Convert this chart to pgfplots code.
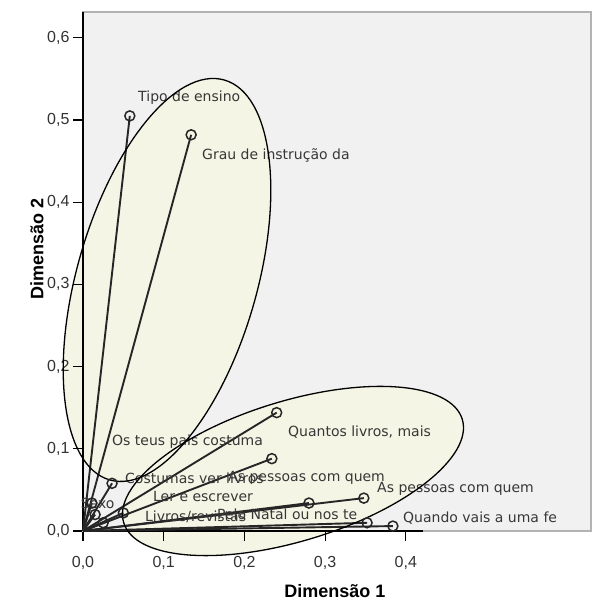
\documentclass[border=0pt]{standalone}
\usepackage{pgfplots}
\pgfplotsset{compat=1.18}
\usepackage{fontspec}
\setmainfont{Liberation Sans}
\newfontfamily\labfont{DejaVu Sans}
\definecolor{plotbg}{RGB}{240,241,240}
\definecolor{ellfill}{RGB}{245,245,230}
\definecolor{labcol}{RGB}{55,55,55}
\newcommand{\vect}[2]{\addplot[draw=black!85, line width=1.9pt, mark=o, mark size=5pt,
  mark options={line width=1.5pt, draw=black!85, fill=none}, mark indices={2}] coordinates {(0,0) (#1,#2)};}
\newcommand{\lab}[3]{\node[anchor=west, inner sep=0pt, font=\labfont\fontsize{14}{15}\selectfont, text=labcol] at (axis cs:#1,#2) {#3};}
\begin{document}
\begin{tikzpicture}
\begin{axis}[
  set layers,
  at={(0,0)}, anchor=south west,
  scale only axis, width=508pt, height=519pt,
  xmin=0, xmax=0.6295, ymin=0, ymax=0.6314,
  clip=false,
  axis background/.style={fill=plotbg},
  axis line style={draw=gray!60, line width=1.5pt},
  xtick={0,0.1,0.2,0.3,0.4},
  ytick={0,0.1,0.2,0.3,0.4,0.5,0.6},
  tick pos=left, tick align=outside, major tick length=10pt,
  tick style={black, line width=1.2pt},
  /pgf/number format/.cd, fixed, fixed zerofill, precision=1, use comma, assume math mode=true,
  /pgfplots/.cd,
  ticklabel style={font=\fontsize{16}{16}\selectfont, text=black!80},
  xticklabel style={yshift=-12pt},
  xlabel={Dimensão 1}, ylabel={Dimensão 2},
  label style={font=\bfseries\fontsize{18}{18}\selectfont},
  xlabel style={at={(axis description cs:0.496,-0.1156)}, anchor=center},
  ylabel style={at={(axis description cs:-0.0906,0.5434)}, anchor=center},
]
\begin{pgfonlayer}{axis grid}
\begin{scope}[shift={(axis cs:0.1041,0.3054)}, rotate=74]
\fill[ellfill] (0,0) ellipse [x radius=208pt, y radius=90pt];
\end{scope}
\begin{scope}[shift={(axis cs:0.2602,0.0730)}, rotate=17]
\fill[ellfill] (0,0) ellipse [x radius=177pt, y radius=70pt];
\end{scope}
\end{pgfonlayer}

\draw[black, line width=1.5pt] (axis cs:0,0) -- (axis cs:0,0.6314);
\draw[black, line width=1.5pt] (axis cs:0,0) -- (axis cs:0.421,0);

\vect{0.058}{0.505}
\vect{0.134}{0.482}
\vect{0.240}{0.144}
\vect{0.234}{0.088}
\vect{0.348}{0.040}
\vect{0.280}{0.034}
\vect{0.352}{0.010}
\vect{0.384}{0.006}
\vect{0.036}{0.058}
\vect{0.011}{0.034}
\vect{0.050}{0.022}
\vect{0.025}{0.010}
\vect{0.015}{0.020}

\lab{0.0682}{0.5268}{Tipo de ensino}
\lab{0.1475}{0.4574}{Grau de instrução da}
\lab{0.2540}{0.1204}{Quantos livros, mais}
\lab{0.0359}{0.1083}{Os teus pais costuma}
\lab{0.0520}{0.0645}{Costumas ver livros}
\lab{0.1797}{0.0645}{As pessoas com quem}
\lab{0.0867}{0.0414}{Ler e escrever}
\lab{0.3643}{0.0511}{As pessoas com quem}
\lab{0.0768}{0.0170}{Livros/revistas}
\lab{0.1660}{0.0207}{Pelo Natal ou nos te}
\lab{0.3965}{0.0158}{Quando vais a uma fe}
\lab{-0.003}{0.034}{Sexo}

\begin{scope}[shift={(axis cs:0.1041,0.3054)}, rotate=74]
\draw[black, line width=1.3pt] (0,0) ellipse [x radius=208pt, y radius=90pt];
\end{scope}
\begin{scope}[shift={(axis cs:0.2602,0.0730)}, rotate=17]
\draw[black, line width=1.3pt] (0,0) ellipse [x radius=177pt, y radius=70pt];
\end{scope}
\end{axis}
\pgfresetboundingbox
\useasboundingbox (-83pt,-70pt) rectangle (508pt,531pt);
\end{tikzpicture}
\end{document}
